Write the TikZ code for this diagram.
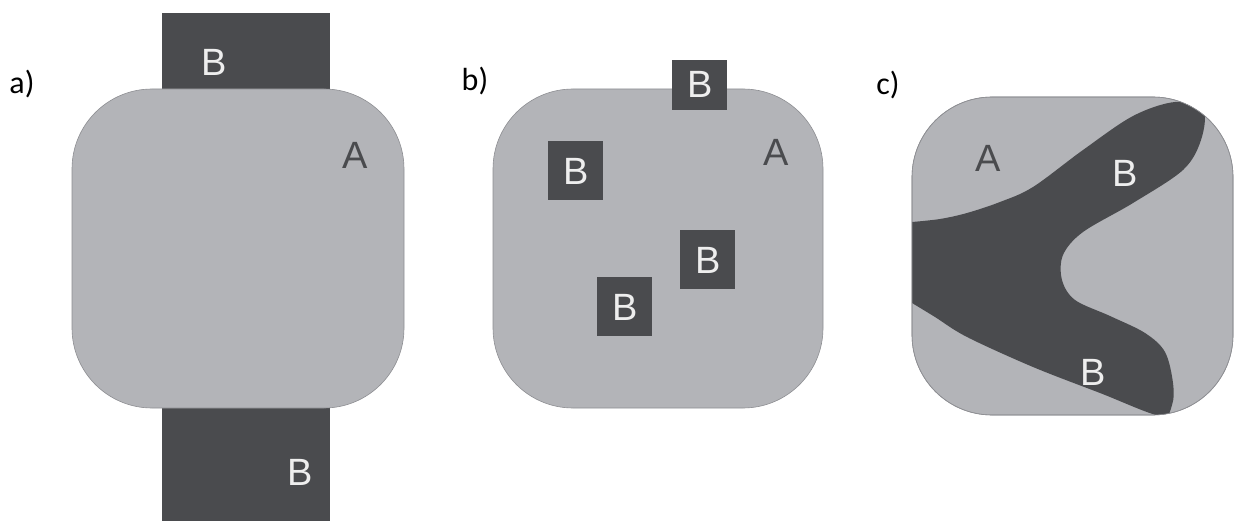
\documentclass[tikz,border=0pt]{standalone}
\usepackage{fontspec}
\setmainfont{Liberation Sans}
\newfontfamily\labfont{Carlito}
\definecolor{lightg}{HTML}{B3B4B8}
\definecolor{darkg}{HTML}{4A4B4E}
\definecolor{edgeg}{HTML}{8E8F93}
\definecolor{whitet}{HTML}{EEEEEE}
\begin{document}
\begin{tikzpicture}[x=1pt,y=-1pt,
  region/.style={fill=lightg,draw=edgeg,line width=0.6pt,rounded corners=80pt},
  blk/.style={fill=darkg,draw=none},
  btext/.style={text=whitet,font=\fontsize{38}{38}\selectfont,inner sep=0pt},
  atext/.style={text=darkg,font=\fontsize{38}{38}\selectfont,inner sep=0pt},
  ptext/.style={text=black,font=\labfont\fontsize{32}{32}\selectfont,inner sep=0pt}]
\useasboundingbox[fill=white] (0,0) rectangle (1234,521);
% panel a
\fill[blk] (162,13) rectangle (330,92);
\fill[blk] (162,405) rectangle (330,521);
\draw[region] (72,89) rectangle (404,408);
\node[ptext] (la) at (22,84) {a)};
\node[btext] (aB1) at (214,62) {B};
\node[atext] (aA) at (355,155) {A};
\node[btext] (aB2) at (300,472) {B};
% panel b
\draw[region] (493,89) rectangle (823,408);
\fill[blk] (672,60) rectangle (727,110);
\fill[blk] (548,141) rectangle (603,200);
\fill[blk] (680,230) rectangle (735,289);
\fill[blk] (597,277) rectangle (652,336);
\node[ptext] (lb) at (475,81) {b)};
\node[btext] (bB1) at (700,84) {B};
\node[btext] (bB2) at (576,171) {B};
\node[btext] (bB3) at (708,260) {B};
\node[btext] (bB4) at (625,307) {B};
\node[atext] (bA) at (776,152) {A};
% panel c
\draw[region] (912,97) rectangle (1233,415);
\begin{scope}
\clip[rounded corners=80pt] (912,97) rectangle (1233,415);
\fill[blk] (880,222) -- plot[smooth,tension=0.55] coordinates {
 (912,222) (940,219) (967,213) (1000,202) (1033,187) (1083,150) (1133,116)
 (1175,102) (1203,110) (1201,140) (1183,170) (1133,203) (1083,232) (1063,255)
 (1062,280) (1075,300) (1110,316) (1145,333) (1165,352) (1173,383) (1172,405)
 (1160,416) (1100,393) (1033,367) (967,337) (935,317) (912,303)} -- (880,290) -- cycle;
\end{scope}
\draw[draw=edgeg,line width=0.6pt,rounded corners=80pt] (912,97) rectangle (1233,415);
\node[ptext] (lc) at (888,85) {c)};
\node[atext] (cA) at (988,158) {A};
\node[btext] (cB1) at (1125,173) {B};
\node[btext] (cB2) at (1093,372) {B};
\end{tikzpicture}
\end{document}
